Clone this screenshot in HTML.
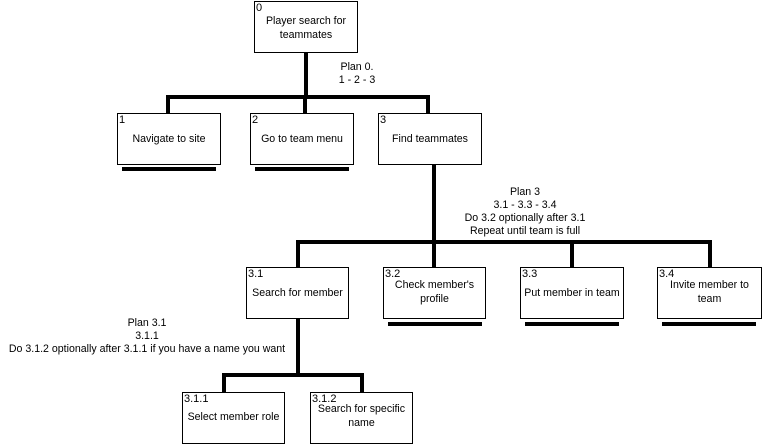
<!DOCTYPE html>
<html><head><meta charset="utf-8"><style>
body{margin:0;width:763px;height:448px;background:#fff;position:relative;overflow:hidden;font-family:"Liberation Sans",Arial,sans-serif;font-size:10.6px;color:#000}
.b{position:absolute;box-sizing:border-box;border:1px solid #000;background:#fff}
.n{position:absolute;left:1px;top:0;font-size:11px;line-height:12px}
.t{position:absolute;left:0;right:0;text-align:center;line-height:14px}
.p{position:absolute;text-align:center;line-height:13px;white-space:nowrap}
</style></head><body>
<svg width="763" height="448" style="position:absolute;left:0;top:0" stroke="#000" stroke-width="4" fill="none">
<line x1="306" y1="52" x2="306" y2="97"/>
<polyline points="168,113 168,97 428,97 428,113"/>
<line x1="305" y1="97" x2="305" y2="113"/>
<line x1="122" y1="169" x2="216" y2="169"/>
<line x1="255" y1="169" x2="349" y2="169"/>
<line x1="434" y1="164" x2="434" y2="267"/>
<polyline points="298,267 298,242 710,242 710,267"/>
<line x1="572" y1="242" x2="572" y2="267"/>
<line x1="388" y1="324" x2="482" y2="324"/>
<line x1="525" y1="324" x2="619" y2="324"/>
<line x1="662" y1="324" x2="756" y2="324"/>
<line x1="298" y1="319" x2="298" y2="375"/>
<polyline points="224,392 224,375 362,375 362,392"/>
</svg>
<div class="b" style="left:254px;top:1px;width:104px;height:52px"><span class="n">0</span><div class="t" style="top:12px">Player search for<br>teammates</div></div>
<div class="p" style="left:307px;width:100px;top:61px">Plan 0.<br>1 - 2 - 3</div>
<div class="b" style="left:117px;top:113px;width:104px;height:52px"><span class="n">1</span><div class="t" style="top:18px">Navigate to site</div></div>
<div class="b" style="left:250px;top:113px;width:104px;height:52px"><span class="n">2</span><div class="t" style="top:18px">Go to team menu</div></div>
<div class="b" style="left:378px;top:113px;width:104px;height:52px"><span class="n">3</span><div class="t" style="top:18px">Find teammates</div></div>
<div class="p" style="left:425px;width:200px;top:186px">Plan 3<br>3.1 - 3.3 - 3.4<br>Do 3.2 optionally after 3.1<br>Repeat until team is full</div>
<div class="b" style="left:246px;top:267px;width:103px;height:52px"><span class="n">3.1</span><div class="t" style="top:18px">Search for member</div></div>
<div class="b" style="left:383px;top:267px;width:103px;height:52px"><span class="n">3.2</span><div class="t" style="top:10px">Check member's<br>profile</div></div>
<div class="b" style="left:520px;top:267px;width:104px;height:52px"><span class="n">3.3</span><div class="t" style="top:18px">Put member in team</div></div>
<div class="b" style="left:657px;top:267px;width:105px;height:52px"><span class="n">3.4</span><div class="t" style="top:10px">Invite member to<br>team</div></div>
<div class="p" style="left:0px;width:294px;top:317px">Plan 3.1<br>3.1.1<br>Do 3.1.2 optionally after 3.1.1 if you have a name you want</div>
<div class="b" style="left:182px;top:392px;width:103px;height:52px"><span class="n">3.1.1</span><div class="t" style="top:17px">Select member role</div></div>
<div class="b" style="left:310px;top:392px;width:103px;height:52px"><span class="n">3.1.2</span><div class="t" style="top:9px">Search for specific<br>name</div></div>
</body></html>
